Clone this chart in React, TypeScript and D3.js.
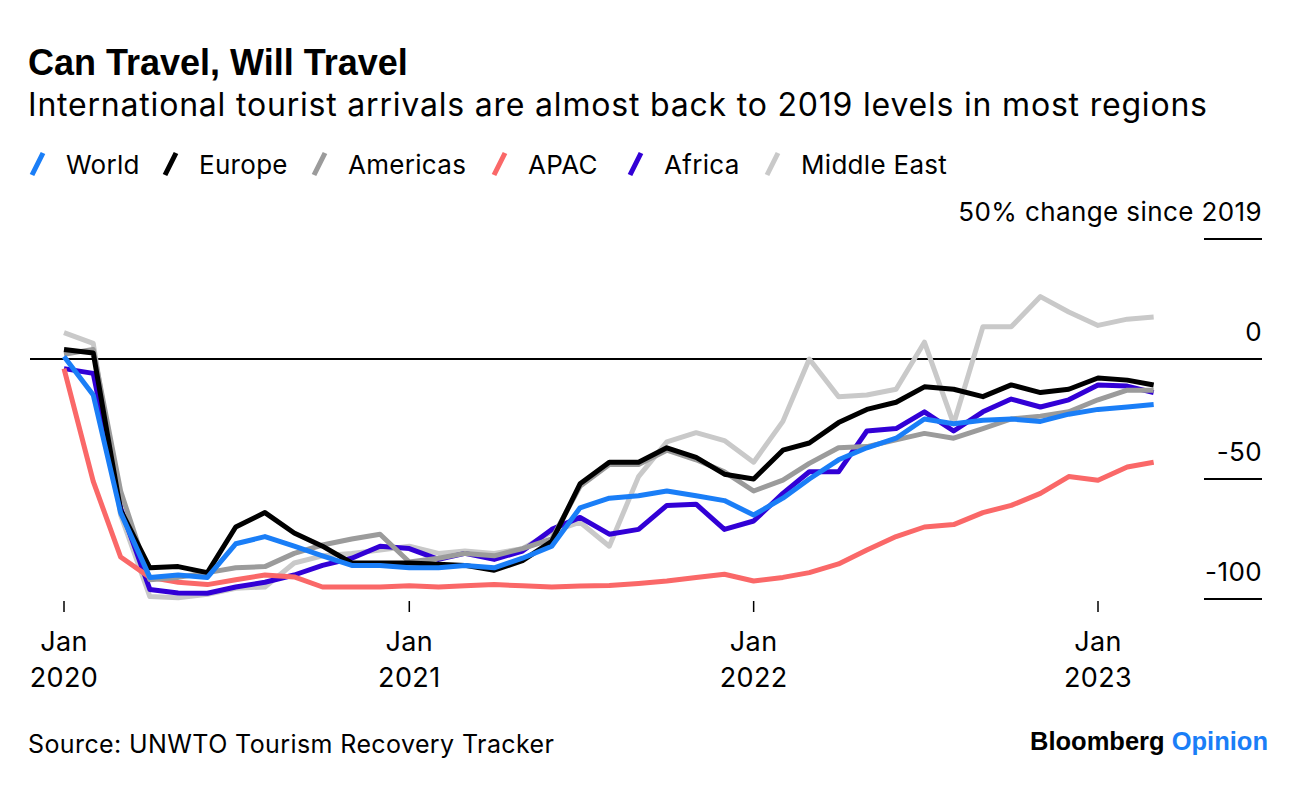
import * as d3 from "d3";

const months = [
	"2020-01", "2020-02", "2020-03", "2020-04", "2020-05", "2020-06", "2020-07", "2020-08", "2020-09", "2020-10", "2020-11", "2020-12",
	"2021-01", "2021-02", "2021-03", "2021-04", "2021-05", "2021-06", "2021-07", "2021-08", "2021-09", "2021-10", "2021-11", "2021-12",
	"2022-01", "2022-02", "2022-03", "2022-04", "2022-05", "2022-06", "2022-07", "2022-08", "2022-09", "2022-10", "2022-11", "2022-12",
	"2023-01", "2023-02", "2023-03",
];

// % change in international tourist arrivals vs same month of 2019
const world = [1, -15, -64, -91, -90, -91, -77, -74, -78, -82, -86, -86, -87, -87, -86, -87, -83, -78, -62, -58, -57, -55, -57, -59, -65, -58, -50, -42, -37, -33, -25, -27, -25.5, -25, -26, -23, -21, -20, -19];
const europe = [4, 2.5, -63, -87, -86.5, -89, -70, -64, -72.5, -78, -85, -85, -85, -85.5, -86, -88, -84, -76, -52, -43, -43, -37, -41, -48, -50, -38, -35, -26.5, -21, -18, -11.6, -12.6, -15.7, -10.8, -14, -12.6, -7.9, -8.8, -10.8];
const americas = [2, 4, -55, -92, -91, -89, -87, -86.5, -81, -77.5, -75, -73, -84.6, -83, -81, -82, -79, -75, -53, -44, -44, -38, -42, -47, -55, -50.5, -43.5, -37, -36.5, -33.7, -31, -33, -29, -25, -23.8, -22, -17, -13, -13];
const apac = [-4, -51, -82.5, -91, -93, -94, -92, -90, -90.8, -95, -95, -95, -94.5, -95, -94.5, -94, -94.5, -95, -94.6, -94.4, -93.5, -92.5, -91, -89.7, -92.5, -91, -89, -85.4, -79.6, -74, -70, -69, -64, -61, -56, -49, -50.5, -45, -43];
const africa = [-4, -6, -62, -96, -97.5, -97.6, -95, -93, -90, -86, -83, -78, -79, -83.5, -81, -83.5, -80, -71, -66, -73, -71, -61, -60.5, -71, -67.5, -56, -47, -47, -30, -29, -22, -30, -22, -16.7, -20, -17, -10.8, -11.3, -14];
const middleEast = [11, 6.5, -65, -99, -99.5, -98, -95.5, -95, -85, -82, -81, -79.6, -78, -81, -80, -81, -79, -72, -68, -78, -49, -34.5, -30.7, -34, -43, -26, 0, -15.7, -15, -12.6, 7, -27, 13.4, 13.4, 26, 19.6, 14, 16.6, 17.5];

const yTicks = [50, 0, -50, -100];
const xTickYears = ["2020", "2021", "2022", "2023"];

const series = [
	{ name: "World", values: world, color: "#1a7ef7" },
	{ name: "Europe", values: europe, color: "#000000" },
	{ name: "Americas", values: americas, color: "#9b9b9b" },
	{ name: "APAC", values: apac, color: "#fa6868" },
	{ name: "Africa", values: africa, color: "#3200d6" },
	{ name: "Middle East", values: middleEast, color: "#c9c9c9" },
];

// legend slot x positions (swatch start)
const legendX = [30, 163, 312, 492, 628, 765];

const BOLD = "'Liberation Sans', Arial, sans-serif";
const FONT = "Inter, 'Liberation Sans', sans-serif";
const W = 1296;
const H = 786;

export default function App() {
	const parse = d3.timeParse("%Y-%m");
	const dates = months.map((m) => parse(m) as Date);

	const x = d3
		.scaleTime()
		.domain([parse("2020-01") as Date, parse("2023-01") as Date])
		.range([64, 1098]);

	const y = d3.scaleLinear().domain([0, -100]).range([359, 599]);

	const line = d3
		.line<number>()
		.x((_, i) => x(dates[i]))
		.y((d) => y(d));

	const yearTicks = xTickYears.map((yr) => parse(`${yr}-01`) as Date);

	// draw order: World on top
	const drawOrder = [...series].reverse();

	return (
		<svg
			width={W}
			height={H}
			style={{ position: "absolute", left: 0, top: 0, background: "#fff" }}
			fontFamily={FONT}
		>
			<rect width={W} height={H} fill="#fff" />
			<text x={28} y={75} fontSize={36} fontWeight="bold" fill="#000" fontFamily={BOLD}>
				Can Travel, Will Travel
			</text>
			<text x={28} y={116} fontSize={32} letterSpacing={0.8} fill="#000">
				International tourist arrivals are almost back to 2019 levels in most regions
			</text>

			{series.map((s, i) => (
				<g key={s.name} transform={`translate(${legendX[i]},0)`}>
					<line
						x1={2}
						y1={175}
						x2={13}
						y2={153}
						stroke={s.color}
						strokeWidth={5}
					/>
					<text x={36} y={174} fontSize={26} letterSpacing={0.3} fill="#000">
						{s.name}
					</text>
				</g>
			))}

			{/* y axis labels and short rules */}
			{yTicks.map((t) => (
				<g key={t}>
					<line
						x1={t === 0 ? 30 : 1204}
						x2={1262}
						y1={y(t)}
						y2={y(t)}
						stroke="#000"
						strokeWidth={2}
					/>
					<text
						x={1262}
						y={y(t) - 18}
						fontSize={26}
						letterSpacing={0.4}
						textAnchor="end"
						fill="#000"
					>
						{t === 50 ? "50% change since 2019" : t}
					</text>
				</g>
			))}

			{/* x axis ticks */}
			{yearTicks.map((d, i) => (
				<g key={i} transform={`translate(${x(d)},0)`}>
					<line y1={601} y2={612} stroke="#000" strokeWidth={1.5} />
					<text y={651} fontSize={27} letterSpacing={0.4} textAnchor="middle" fill="#000">
						Jan
					</text>
					<text y={687} fontSize={27} letterSpacing={0.4} textAnchor="middle" fill="#000">
						{xTickYears[i]}
					</text>
				</g>
			))}

			{drawOrder.map((s) => (
				<path
					key={s.name}
					d={line(s.values) ?? ""}
					fill="none"
					stroke={s.color}
					strokeWidth={5}
					strokeLinejoin="round"
				/>
			))}

			<text x={28} y={753} fontSize={25} letterSpacing={0.4} fill="#000">
				Source: UNWTO Tourism Recovery Tracker
			</text>
			<text x={1268} y={750} fontSize={25.5} textAnchor="end" fontWeight="bold" fontFamily={BOLD}>
				<tspan fill="#000">Bloomberg </tspan>
				<tspan fill="#1a7ef7">Opinion</tspan>
			</text>
		</svg>
	);
}
